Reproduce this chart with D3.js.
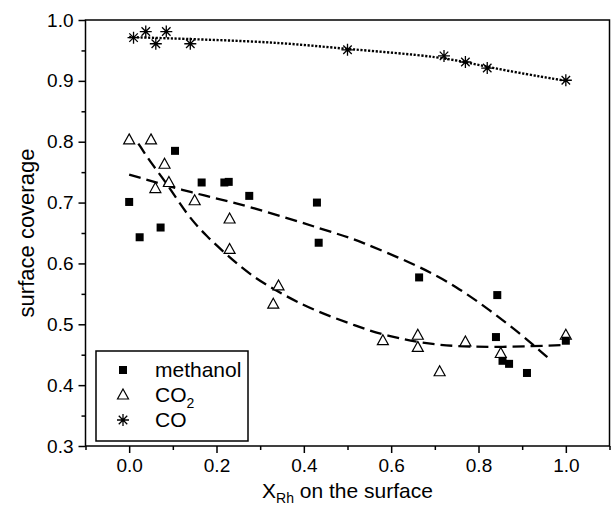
<!DOCTYPE html>
<html>
<head>
<meta charset="utf-8">
<script src="https://cdn.jsdelivr.net/npm/d3@7"></script>
<style>
  body { margin: 0; background: #fff; }
  text { font-family: "Liberation Sans", Arial, sans-serif; fill: #000; }
</style>
</head>
<body>
<div id="chart"></div>
<script>
// --- data ---
const methanolX = [0.0, 0.024, 0.072, 0.105, 0.166, 0.218, 0.228, 0.275, 0.43, 0.434, 0.664, 0.843, 0.840, 0.855, 0.870, 0.911, 1.0];
const methanolY = [0.701, 0.643, 0.659, 0.785, 0.733, 0.733, 0.734, 0.711, 0.700, 0.634, 0.577, 0.548, 0.479, 0.440, 0.435, 0.420, 0.473];

const co2X = [0.0, 0.05, 0.060, 0.081, 0.091, 0.150, 0.230, 0.230, 0.330, 0.342, 0.581, 0.661, 0.661, 0.711, 0.770, 0.851, 1.0];
const co2Y = [0.803, 0.803, 0.723, 0.763, 0.733, 0.703, 0.673, 0.623, 0.533, 0.563, 0.473, 0.482, 0.462, 0.422, 0.471, 0.452, 0.482];

const coX = [0.01, 0.038, 0.061, 0.085, 0.14, 0.50, 0.721, 0.77, 0.82, 1.0];
const coY = [0.971, 0.981, 0.961, 0.981, 0.961, 0.951, 0.941, 0.931, 0.921, 0.901];

// fitted curves
const methanolFitX = [0.0, 0.147, 0.269, 0.483, 0.52, 0.666, 0.75, 0.826, 0.895, 0.948, 0.958];
const methanolFitY = [0.746, 0.715, 0.696, 0.647, 0.639, 0.595, 0.562, 0.523, 0.485, 0.452, 0.446];

const co2FitX = [0.021, 0.052, 0.086, 0.132, 0.178, 0.224, 0.277, 0.346, 0.422, 0.525, 0.582, 0.704, 0.849, 1.0];
const co2FitY = [0.797, 0.763, 0.732, 0.680, 0.644, 0.614, 0.581, 0.551, 0.523, 0.496, 0.482, 0.464, 0.462, 0.466];

const coFitX = [0.0, 0.17, 0.35, 0.5, 0.72, 0.82, 1.0];
const coFitY = [0.972, 0.968, 0.963, 0.952, 0.940, 0.922, 0.900];

const xMajor = [0.0, 0.2, 0.4, 0.6, 0.8, 1.0];
const xMinor = [-0.1, 0.1, 0.3, 0.5, 0.7, 0.9, 1.1];
const yMajor = [0.3, 0.4, 0.5, 0.6, 0.7, 0.8, 0.9, 1.0];
const yMinor = [0.35, 0.45, 0.55, 0.65, 0.75, 0.85, 0.95];

const legendNames = ['methanol', 'CO', 'CO'];

// --- layout ---
const W = 611, H = 506;
const margin = { top: 20, right: 1.5, bottom: 60, left: 85.5 };

const svg = d3.select('#chart').append('svg')
    .attr('width', W)
    .attr('height', H);

const x = d3.scaleLinear().domain([-0.1, 1.1]).range([margin.left, W - margin.right]);
const y = d3.scaleLinear().domain([0.3, 1.0]).range([H - margin.bottom, margin.top]);

const zip = (xs, ys) => xs.map((v, i) => [v, ys[i]]);

// axes (ticks point outward)
const gx = svg.append('g').attr('transform', `translate(0,${y(0.3)})`);
gx.call(d3.axisBottom(x).tickValues(xMajor).tickSize(7).tickPadding(6).tickFormat(d3.format('.1f')));
gx.append('g').call(d3.axisBottom(x).tickValues(xMinor).tickSize(4).tickFormat(''));

const gy = svg.append('g').attr('transform', `translate(${x(-0.1)},0)`);
gy.call(d3.axisLeft(y).tickValues(yMajor).tickSize(7).tickPadding(5).tickFormat(d3.format('.1f')));
gy.append('g').call(d3.axisLeft(y).tickValues(yMinor).tickSize(4).tickFormat(''));

svg.selectAll('.domain').remove();
svg.selectAll('.tick line').attr('stroke', '#000').attr('stroke-width', 1.5);
svg.selectAll('.tick text')
    .style('font-family', '"Liberation Sans", Arial, sans-serif')
    .style('font-size', '19px')
    .attr('fill', '#000');

// frame
svg.append('rect')
    .attr('x', x(-0.1)).attr('y', y(1.0))
    .attr('width', x(1.1) - x(-0.1)).attr('height', y(0.3) - y(1.0))
    .attr('fill', 'none').attr('stroke', '#000').attr('stroke-width', 1.5);

// axis titles
const xt = svg.append('text')
    .attr('x', (x(-0.1) + x(1.1)) / 2).attr('y', 498)
    .attr('text-anchor', 'middle')
    .style('font-size', '21px');
xt.append('tspan').text('X');
xt.append('tspan').attr('dy', 5).style('font-size', '14px').text('Rh');
xt.append('tspan').attr('dy', -5).text(' on the surface');

svg.append('text')
    .attr('transform', `translate(34,${(y(0.3) + y(1.0)) / 2}) rotate(-90)`)
    .attr('text-anchor', 'middle')
    .style('font-size', '22px')
    .text('surface coverage');

// fit curves
const line = d3.line().x(d => x(d[0])).y(d => y(d[1])).curve(d3.curveBasis);

svg.append('path').datum(zip(coFitX, coFitY))
    .attr('d', line).attr('fill', 'none').attr('stroke', '#000')
    .attr('stroke-width', 2.4).attr('stroke-dasharray', '2.2,1.6');

svg.append('path').datum(zip(methanolFitX, methanolFitY))
    .attr('d', line).attr('fill', 'none').attr('stroke', '#000')
    .attr('stroke-width', 2.3).attr('stroke-dasharray', '12,6');

svg.append('path').datum(zip(co2FitX, co2FitY))
    .attr('d', line).attr('fill', 'none').attr('stroke', '#000')
    .attr('stroke-width', 2.3).attr('stroke-dasharray', '12,6');

// marker shapes
const starPath = r => {
    const a = r * Math.SQRT1_2;
    return `M${-r},0L${r},0M0,${-r}L0,${r}M${-a},${-a}L${a},${a}M${-a},${a}L${a},${-a}`;
};
const triPath = 'M0,-6L5.5,4L-5.5,4Z';
const sq = 8;

function drawSquares(g, pts) {
    g.selectAll('rect.sq').data(pts).join('rect').attr('class', 'sq')
        .attr('x', d => x(d[0]) - sq / 2).attr('y', d => y(d[1]) - sq / 2)
        .attr('width', sq).attr('height', sq).attr('fill', '#000');
}
function drawTriangles(g, pts) {
    g.selectAll('path.tri').data(pts).join('path').attr('class', 'tri')
        .attr('transform', d => `translate(${x(d[0])},${y(d[1])})`)
        .attr('d', triPath).attr('fill', '#fff').attr('stroke', '#000').attr('stroke-width', 1.2);
}
function drawStars(g, pts) {
    g.selectAll('path.star').data(pts).join('path').attr('class', 'star')
        .attr('transform', d => `translate(${x(d[0])},${y(d[1])})`)
        .attr('d', starPath(6)).attr('fill', 'none').attr('stroke', '#000').attr('stroke-width', 1.3);
}

drawTriangles(svg.append('g'), zip(co2X, co2Y));
drawSquares(svg.append('g'), zip(methanolX, methanolY));
drawStars(svg.append('g'), zip(coX, coY));

// legend
const lg = svg.append('g');
lg.append('rect')
    .attr('x', 96).attr('y', 351).attr('width', 152).attr('height', 90)
    .attr('fill', '#fff').attr('stroke', '#000').attr('stroke-width', 1.5);

const rows = [370, 395, 420];
lg.append('rect').attr('x', 123 - sq / 2).attr('y', rows[0] - sq / 2)
    .attr('width', sq).attr('height', sq).attr('fill', '#000');
lg.append('path').attr('transform', `translate(123,${rows[1]})`)
    .attr('d', triPath).attr('fill', '#fff').attr('stroke', '#000').attr('stroke-width', 1.2);
lg.append('path').attr('transform', `translate(123,${rows[2]})`)
    .attr('d', starPath(6)).attr('fill', 'none').attr('stroke', '#000').attr('stroke-width', 1.3);

legendNames.forEach((name, i) => {
    const t = lg.append('text')
        .attr('x', 155).attr('y', rows[i] + 7)
        .style('font-size', '21px');
    t.append('tspan').text(name);
    if (i === 1) t.append('tspan').attr('dy', 6).style('font-size', '14px').text('2');
});
</script>
</body>
</html>
